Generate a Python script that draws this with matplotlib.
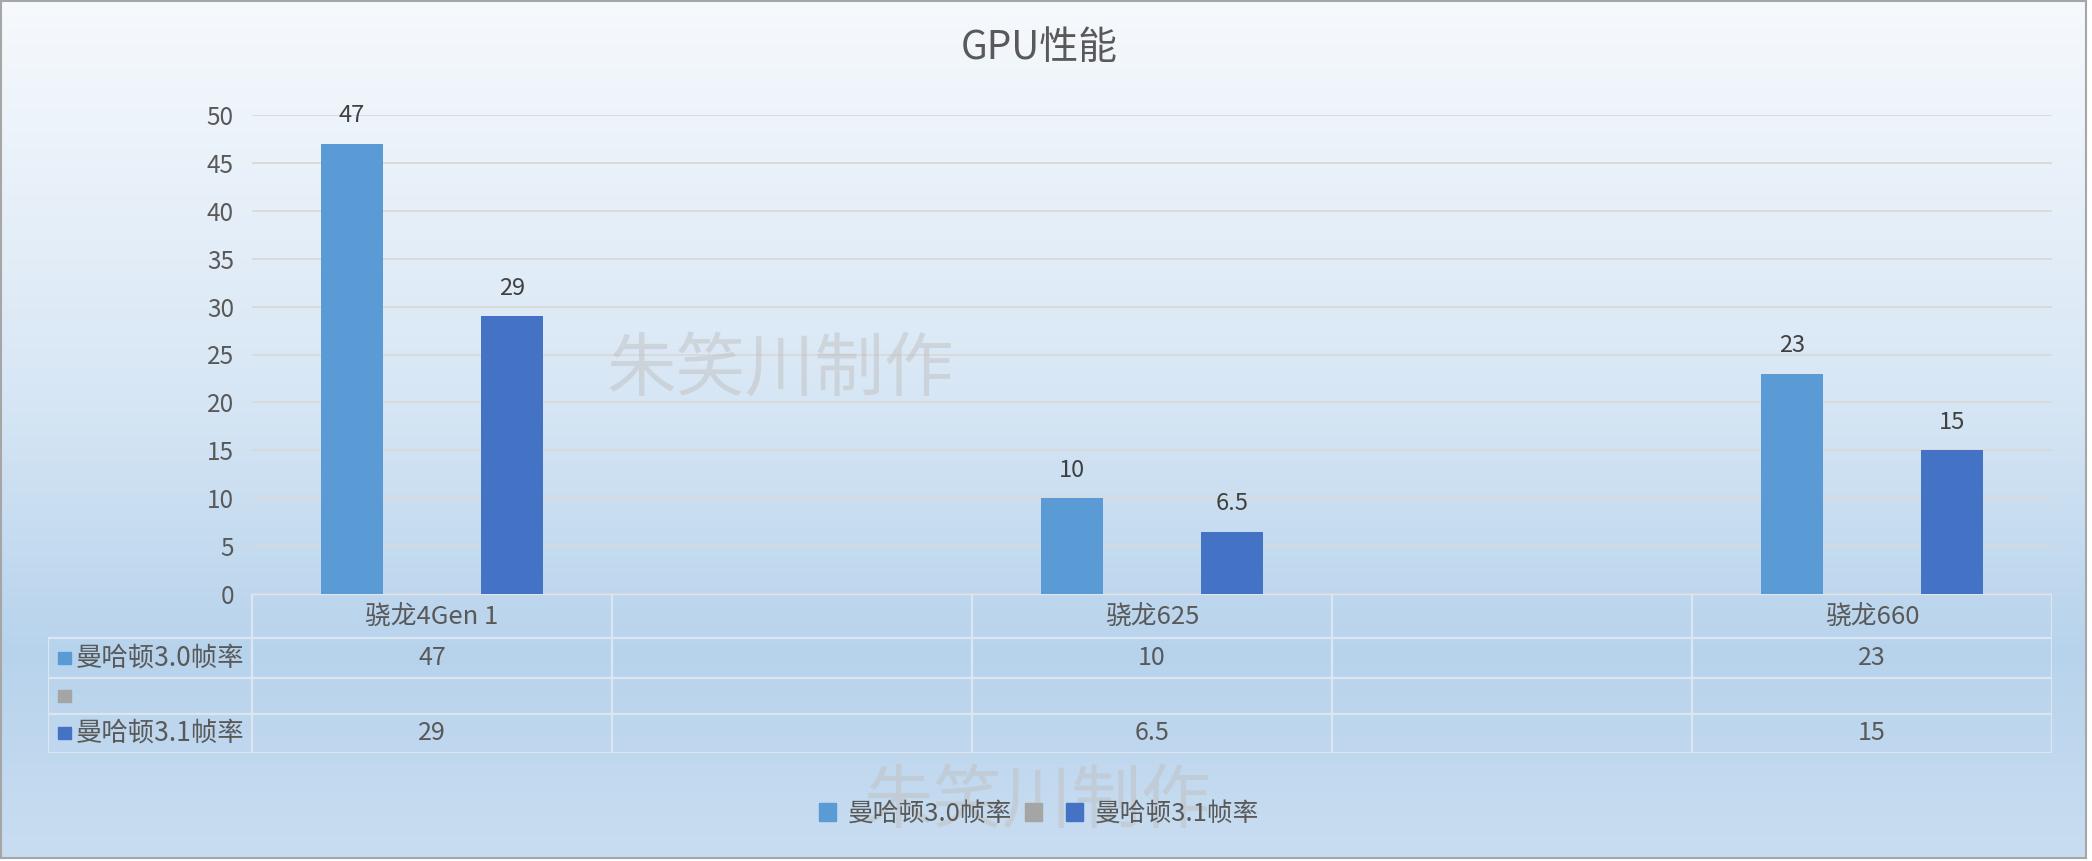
import numpy as np
import matplotlib
matplotlib.use("Agg")
import matplotlib.pyplot as plt
from matplotlib.patches import Rectangle, Patch
from matplotlib.colors import LinearSegmentedColormap

plt.rcParams['font.family'] = ['Noto Sans CJK SC', 'DejaVu Sans']

# ---- data ----
title = "GPU性能"
categories = ["骁龙4Gen 1", "", "骁龙625", "", "骁龙660"]
series_names = ["曼哈顿3.0帧率", "", "曼哈顿3.1帧率"]
manhattan30 = [47, np.nan, 10, np.nan, 23]
blank_series = [np.nan, np.nan, np.nan, np.nan, np.nan]
manhattan31 = [29, np.nan, 6.5, np.nan, 15]
yticks = [0, 5, 10, 15, 20, 25, 30, 35, 40, 45, 50]
watermark = "朱笑川制作"

colors = ["#5B9BD5", "#A5A5A5", "#4472C4"]
series = [manhattan30, blank_series, manhattan31]
text_col = "#595959"

W, H = 2092, 861
fig = plt.figure(figsize=(W / 100, H / 100), dpi=100, facecolor="white")

def fx(px):
    return px / W

def fy(py):
    return 1 - py / H

# ---- gradient background ----
bg = fig.add_axes([fx(1), fy(858), fx(2085), (857) / H], zorder=-10)
cmap = LinearSegmentedColormap.from_list(
    "bg", [(0.0, "#F6F9FD"), (0.45, "#D8E7F5"), (0.76, "#B7D3EC"), (1.0, "#C9DDF1")])
grad = np.linspace(0, 1, 256).reshape(-1, 1)
bg.imshow(grad, aspect="auto", cmap=cmap, extent=[0, 1, 1, 0])
bg.set_xticks([]); bg.set_yticks([])
for s in bg.spines.values():
    s.set_color("#A6A6A6"); s.set_linewidth(1.5)

# ---- main axes ----
left, right, top, zero = 252, 2052, 115, 594
ax = fig.add_axes([fx(left), fy(zero), fx(right - left), (zero - top) / H])
ax.patch.set_alpha(0)
x = np.arange(len(categories))
bw = 0.172
offs = [-0.222, 0.0, 0.222]
for vals, c, o, name in zip(series, colors, offs, series_names):
    bars = ax.bar(x + o, vals, width=bw, color=c, zorder=3, label=name)
    labels = ["" if np.isnan(v) else ("%g" % v) for v in vals]
    ax.bar_label(bars, labels=labels, padding=12, fontsize=17, color="#404040")
ax.set_xlim(-0.5, len(categories) - 0.5)
ax.set_ylim(0, 50)
ax.set_yticks(yticks)
ax.set_yticklabels([str(t) for t in yticks], fontsize=17.5, color=text_col)
ax.tick_params(axis="y", length=0, pad=13)
ax.tick_params(axis="x", length=0, labelbottom=False)
ax.grid(axis="y", color="#D9D9D9", linewidth=1.3, zorder=0)
for s in ax.spines.values():
    s.set_visible(False)

# ---- data table ----
tleft = 48
rows_y = [594, 638, 678, 714, 753]
catw = (right - left) / len(categories)
tab = fig.add_axes([fx(tleft), fy(rows_y[-1]), fx(right - tleft), (rows_y[-1] - rows_y[0]) / H])
tab.patch.set_alpha(0)
tab.set_xlim(tleft, right)
tab.set_ylim(rows_y[-1], rows_y[0])
tab.axis("off")
lc = "#DCE6F1"
lw = 1.6
tab.plot([left, right], [rows_y[0], rows_y[0]], color=lc, lw=lw, solid_capstyle="butt")
for yy in rows_y[1:]:
    tab.plot([tleft, right], [yy, yy], color=lc, lw=lw, solid_capstyle="butt")
tab.plot([tleft, tleft], [rows_y[1], rows_y[-1]], color=lc, lw=lw)
for i in range(len(categories) + 1):
    xx = left + i * catw
    tab.plot([xx, xx], [rows_y[0], rows_y[-1]], color=lc, lw=lw)
# header
for i, cname in enumerate(categories):
    cx = left + (i + 0.5) * catw
    tab.text(cx, (rows_y[0] + rows_y[1]) / 2 + 2, cname, ha="center", va="center",
             fontsize=18.5, color=text_col)
# rows
for r, (vals, c, name) in enumerate(zip(series, colors, series_names)):
    cy = (rows_y[r + 1] + rows_y[r + 2]) / 2
    tab.add_patch(Rectangle((58, cy - 6), 13, 12, color=c))
    tab.text(76, cy, name, ha="left", va="center", fontsize=19, color=text_col)
    for i, v in enumerate(vals):
        if not np.isnan(v):
            cx = left + (i + 0.5) * catw
            tab.text(cx, cy, "%g" % v, ha="center", va="center", fontsize=18, color=text_col)

# ---- title ----
fig.text(fx(1039), fy(48), title, ha="center", va="center", fontsize=28, color=text_col)

# ---- watermarks ----
fig.text(fx(780), fy(371), watermark, ha="center", va="center", fontsize=50,
         color="#C0C0C0", alpha=0.5, fontweight="light", zorder=5)
fig.text(fx(1037), fy(803), watermark, ha="center", va="center", fontsize=50,
         color="#C0C0C0", alpha=0.5, fontweight="light", zorder=5)

# ---- legend ----
handles = [Patch(color=c) for c in colors]
fig.legend(handles, series_names, loc="center", bbox_to_anchor=(fx(1039), fy(814)),
           ncol=3, frameon=False, fontsize=18.5, handlelength=0.65, handleheight=0.65,
           handletextpad=0.45, columnspacing=0.5, labelcolor=text_col)

fig.savefig("out.png", dpi=100, facecolor="white")
